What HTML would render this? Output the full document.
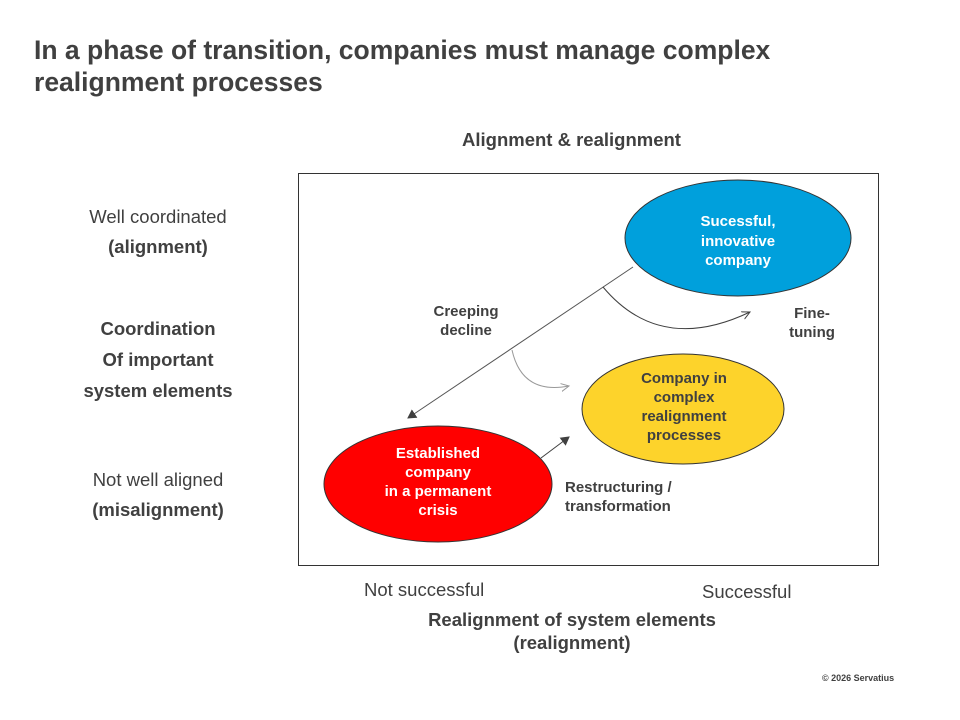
<!DOCTYPE html>
<html><head><style>
body{margin:0;width:960px;height:720px;background:#fff;font-family:"Liberation Sans",sans-serif;position:relative;overflow:hidden}
.t{position:absolute;color:#404040;text-align:center;white-space:nowrap}
</style></head><body>
<div class="t" style="left:34px;top:34px;font-size:26.5px;font-weight:bold;text-align:left;line-height:32px">In a phase of transition, companies must manage complex<br>realignment processes</div>
<div class="t" style="left:462px;top:129px;font-size:18.5px;font-weight:bold">Alignment &amp; realignment</div>
<div class="t" style="left:58px;top:202px;width:200px;font-size:18.5px;line-height:30px">Well coordinated<br><b>(alignment)</b></div>
<div class="t" style="left:58px;top:313px;width:200px;font-size:18.5px;line-height:31px;font-weight:bold">Coordination<br>Of important<br>system elements</div>
<div class="t" style="left:58px;top:465px;width:200px;font-size:18.5px;line-height:30px">Not well aligned<br><b>(misalignment)</b></div>
<div class="t" style="left:364px;top:579px;font-size:18.5px">Not successful</div>
<div class="t" style="left:702px;top:581px;font-size:18.5px">Successful</div>
<div class="t" style="left:372px;top:608px;width:400px;font-size:18.5px;font-weight:bold;line-height:23px">Realignment of system elements<br>(realignment)</div>
<div class="t" style="left:822px;top:673px;font-size:9px;font-weight:bold">© 2026 Servatius</div>
<svg width="960" height="720" style="position:absolute;left:0;top:0">
<defs><marker id="a" markerWidth="10" markerHeight="10" refX="8" refY="5" orient="auto" markerUnits="userSpaceOnUse"><path d="M0,0 L9,5 L0,10 z" fill="#404040"/></marker>
<marker id="b" markerWidth="10" markerHeight="10" refX="8" refY="5" orient="auto" markerUnits="userSpaceOnUse"><path d="M0,1 L8,5 L0,9" fill="none" stroke="#404040"/></marker>
<marker id="c" markerWidth="10" markerHeight="10" refX="8" refY="5" orient="auto" markerUnits="userSpaceOnUse"><path d="M0,1 L8,5 L0,9" fill="none" stroke="#999"/></marker></defs>
<rect x="298.5" y="173.5" width="580" height="392" fill="none" stroke="#333" stroke-width="1"/>
<ellipse cx="738" cy="238" rx="113" ry="58" fill="#00a0dc" stroke="#333"/>
<ellipse cx="683" cy="409" rx="101" ry="55" fill="#fdd32b" stroke="#333"/>
<ellipse cx="438" cy="484" rx="114" ry="58" fill="#ff0000" stroke="#333"/>
<line x1="633" y1="267" x2="408" y2="418" stroke="#555" marker-end="url(#a)"/>
<path d="M603,287 Q660,355 750,312" fill="none" stroke="#404040" marker-end="url(#b)"/>
<path d="M512,350 Q522,395 569,386" fill="none" stroke="#999" marker-end="url(#c)"/>
<line x1="541" y1="458" x2="569" y2="437" stroke="#404040" marker-end="url(#a)"/>
</svg>
<div class="t" style="left:654px;top:212px;width:168px;font-size:15px;font-weight:bold;color:#fff;line-height:19.5px">Sucessful,<br>innovative<br>company</div>
<div class="t" style="left:600px;top:369px;width:168px;font-size:15px;font-weight:bold;color:#404040;line-height:19px">Company in<br>complex<br>realignment<br>processes</div>
<div class="t" style="left:354px;top:444px;width:168px;font-size:15px;font-weight:bold;color:#fff;line-height:19px">Established<br>company<br>in a permanent<br>crisis</div>
<div class="t" style="left:416px;top:302px;width:100px;font-size:15px;font-weight:bold;line-height:19px">Creeping<br>decline</div>
<div class="t" style="left:778px;top:304px;width:68px;font-size:15px;font-weight:bold;line-height:19px">Fine-<br>tuning</div>
<div class="t" style="left:565px;top:478px;font-size:15px;font-weight:bold;line-height:19px;text-align:left">Restructuring /<br>transformation</div>
</body></html>
